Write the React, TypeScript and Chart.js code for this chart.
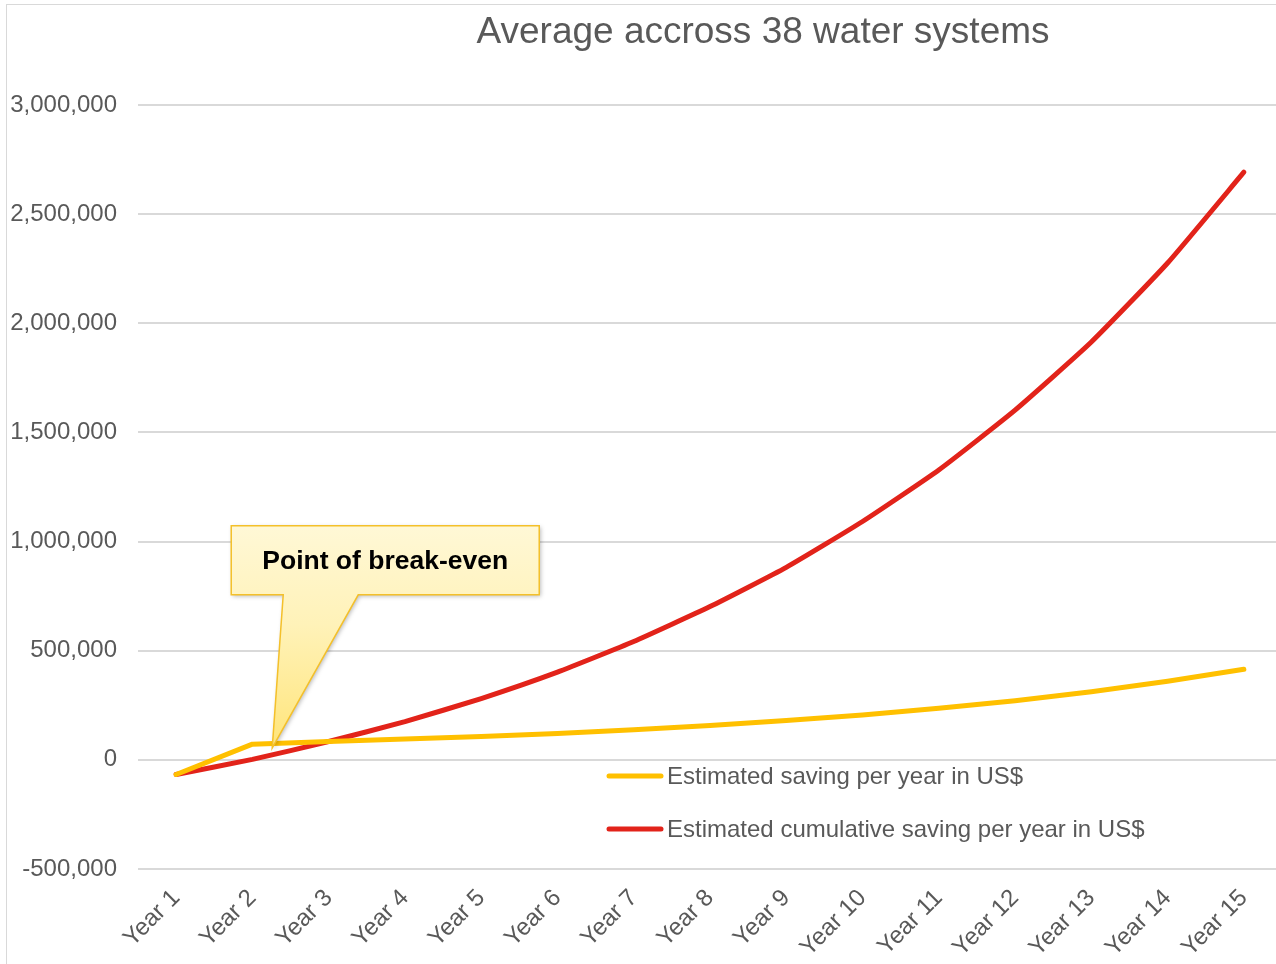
import React, { useEffect, useRef } from "react";
import { Chart, registerables } from "chart.js";

Chart.register(...registerables);

const TITLE = "Average accross 38 water systems";
const CATEGORIES = [
  "Year 1", "Year 2", "Year 3", "Year 4", "Year 5", "Year 6", "Year 7", "Year 8",
  "Year 9", "Year 10", "Year 11", "Year 12", "Year 13", "Year 14", "Year 15",
];
const SERIES_NAMES = [
  "Estimated saving per year in US$",
  "Estimated cumulative saving per year in US$",
];
const SAVING_PER_YEAR = [
  -67000, 72000, 84000, 95000, 107000, 121000, 138000, 157000,
  180000, 206000, 236000, 271000, 312000, 360000, 415000,
];
const CUMULATIVE_SAVING = [
  -67000, 2000, 84000, 175000, 281000, 402000, 542000, 702000,
  882000, 1092000, 1328000, 1602000, 1914000, 2276000, 2692000,
];
const Y_MIN = -500000;
const Y_MAX = 3000000;
const Y_STEP = 500000;
const CALLOUT_TEXT = "Point of break-even";
const CALLOUT_X_INDEX = 1.26;
const CALLOUT_Y_VALUE = 55000;

const COLORS = ["#FFC000", "#E2231A"];
const TEXT_COLOR = "#595959";
const GRID_COLOR = "#D9D9D9";
const FONT = "'Liberation Sans', Arial, sans-serif";

const titlePlugin = {
  id: "customTitle",
  afterDraw(chart: any) {
    const ctx = chart.ctx;
    ctx.save();
    ctx.font = `37px ${FONT}`;
    ctx.fillStyle = TEXT_COLOR;
    ctx.textAlign = "center";
    ctx.textBaseline = "middle";
    ctx.fillText(TITLE, 763, 33);
    ctx.restore();
  },
};

const legendPlugin = {
  id: "insideLegend",
  afterDraw(chart: any) {
    const ctx = chart.ctx;
    const rows = [776, 829];
    ctx.save();
    chart.data.datasets.forEach((ds: any, i: number) => {
      const y = rows[i];
      ctx.strokeStyle = ds.borderColor;
      ctx.lineWidth = 5;
      ctx.lineCap = "round";
      ctx.beginPath();
      ctx.moveTo(609, y);
      ctx.lineTo(661, y);
      ctx.stroke();
      ctx.font = `24px ${FONT}`;
      ctx.fillStyle = TEXT_COLOR;
      ctx.textAlign = "left";
      ctx.textBaseline = "middle";
      ctx.fillText(ds.label, 667, y + 1);
    });
    ctx.restore();
  },
};

const calloutPlugin = {
  id: "callout",
  afterDatasetsDraw(chart: any) {
    const ctx = chart.ctx;
    const xs = chart.scales.x;
    const ys = chart.scales.y;
    const x0 = xs.getPixelForValue(Math.floor(CALLOUT_X_INDEX));
    const x1 = xs.getPixelForValue(Math.floor(CALLOUT_X_INDEX) + 1);
    const tx = x0 + (x1 - x0) * (CALLOUT_X_INDEX - Math.floor(CALLOUT_X_INDEX));
    const ty = ys.getPixelForValue(CALLOUT_Y_VALUE);
    const left = tx - 41;
    const right = tx + 267;
    const top = ty - 222;
    const bottom = ty - 153;
    const pA = tx + 11;
    const pB = tx + 86;
    ctx.save();
    ctx.beginPath();
    ctx.moveTo(left, top);
    ctx.lineTo(right, top);
    ctx.lineTo(right, bottom);
    ctx.lineTo(pB, bottom);
    ctx.lineTo(tx, ty);
    ctx.lineTo(pA, bottom);
    ctx.lineTo(left, bottom);
    ctx.closePath();
    const g = ctx.createLinearGradient(0, top, 0, ty);
    g.addColorStop(0, "#FFF8D6");
    g.addColorStop(0.45, "#FFF2B8");
    g.addColorStop(1, "#FFE57A");
    ctx.shadowColor = "rgba(0,0,0,0.28)";
    ctx.shadowBlur = 4;
    ctx.shadowOffsetX = 1.5;
    ctx.shadowOffsetY = 1.5;
    ctx.fillStyle = g;
    ctx.fill();
    ctx.shadowColor = "transparent";
    ctx.lineWidth = 1.5;
    ctx.strokeStyle = "#F4C02A";
    ctx.lineJoin = "miter";
    ctx.stroke();
    ctx.font = `bold 26.5px ${FONT}`;
    ctx.fillStyle = "#000000";
    ctx.textAlign = "center";
    ctx.textBaseline = "middle";
    ctx.fillText(CALLOUT_TEXT, (left + right) / 2, (top + bottom) / 2 + 1);
    ctx.restore();
  },
};

export default function App() {
  const ref = useRef<HTMLCanvasElement | null>(null);

  useEffect(() => {
    if (!ref.current) return;
    const chart = new Chart(ref.current, {
      type: "line",
      data: {
        labels: CATEGORIES,
        datasets: [
          {
            label: SERIES_NAMES[0],
            data: SAVING_PER_YEAR,
            borderColor: COLORS[0],
            backgroundColor: COLORS[0],
            borderWidth: 5,
            pointRadius: 0,
            tension: 0,
            borderCapStyle: "round",
            borderJoinStyle: "round",
          },
          {
            label: SERIES_NAMES[1],
            data: CUMULATIVE_SAVING,
            borderColor: COLORS[1],
            backgroundColor: COLORS[1],
            borderWidth: 5,
            pointRadius: 0,
            tension: 0.15,
            borderCapStyle: "round",
            borderJoinStyle: "round",
          },
        ],
      },
      options: {
        responsive: false,
        maintainAspectRatio: false,
        animation: false,
        layout: { padding: { top: 105, left: 0, right: 0, bottom: 0 } },
        plugins: {
          legend: { display: false },
          title: { display: false },
          tooltip: { enabled: false },
        },
        scales: {
          x: {
            offset: true,
            grid: { display: false, drawTicks: false },
            border: { display: false },
            ticks: {
              color: TEXT_COLOR,
              font: { family: FONT, size: 24 },
              minRotation: 45,
              maxRotation: 45,
              autoSkip: false,
              padding: 15,
            },
            afterFit(scale: any) {
              scale.height = 95;
            },
          },
          y: {
            min: Y_MIN,
            max: Y_MAX,
            grid: { color: GRID_COLOR, lineWidth: 2, drawTicks: false },
            border: { display: false },
            ticks: {
              stepSize: Y_STEP,
              color: TEXT_COLOR,
              font: { family: FONT, size: 24 },
              padding: 21,
              callback: (v: any) => Number(v).toLocaleString("en-US"),
            },
            afterFit(scale: any) {
              scale.width = 138;
            },
          },
        },
      },
      plugins: [titlePlugin, calloutPlugin, legendPlugin],
    });
    return () => chart.destroy();
  }, []);

  return (
    <div
      style={{
        position: "absolute",
        left: 0,
        top: 0,
        width: 1276,
        height: 964,
        overflow: "hidden",
        background: "#ffffff",
      }}
    >
      <canvas ref={ref} width={1282} height={964} style={{ display: "block" }} />
      <div
        style={{
          position: "absolute",
          left: 6,
          top: 4,
          width: 1300,
          height: 1000,
          borderLeft: "1px solid #D9D9D9",
          borderTop: "1px solid #D9D9D9",
          pointerEvents: "none",
        }}
      />
    </div>
  );
}
